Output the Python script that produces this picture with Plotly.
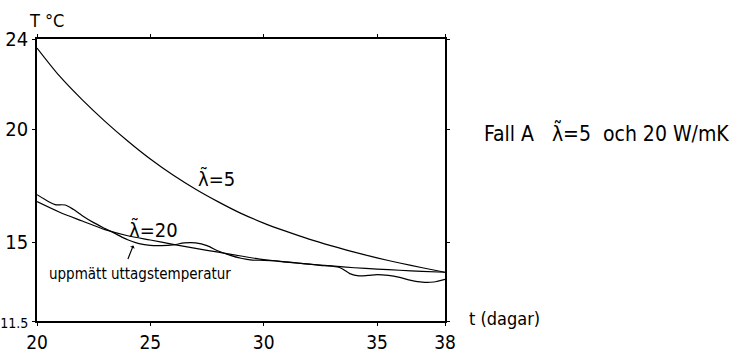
import plotly.graph_objects as go

# λ̃ = 5 computed curve
t_l5 = [20, 21, 22, 23, 24, 25, 26, 27, 28, 29, 30, 31, 32, 33, 34, 35, 36, 37, 38]
T_l5 = [23.6, 22.35, 21.3, 20.35, 19.48, 18.68, 17.97, 17.34, 16.78, 16.27, 15.84,
        15.47, 15.13, 14.83, 14.55, 14.3, 14.07, 13.86, 13.66]

# λ̃ = 20 computed curve
t_l20 = [20, 21, 22, 23, 24, 25, 26, 27, 28, 29, 30, 31, 32, 33, 34, 35, 36, 37, 38]
T_l20 = [16.79, 16.32, 15.93, 15.55, 15.28, 15.09, 14.9, 14.72, 14.55, 14.38, 14.22,
         14.11, 14.02, 13.94, 13.86, 13.8, 13.75, 13.7, 13.66]

# measured outlet temperature (uppmätt uttagstemperatur)
t_meas = [20, 20.5, 20.8, 21.25, 21.6, 22.0, 22.5, 23.0, 23.5, 24.0, 24.5, 25.0, 25.5,
          26.0, 26.5, 27.0, 27.5, 28.0, 28.5, 29.0, 29.5, 30.0, 30.5, 31.0, 31.5,
          32.0, 32.5, 33.0, 33.4, 33.8, 34.2, 34.6, 35.0, 35.5, 36.0, 36.5, 37.0,
          37.5, 38.0]
T_meas = [17.1, 16.8, 16.66, 16.64, 16.45, 16.17, 15.86, 15.6, 15.35, 15.1, 14.93,
          14.85, 14.84, 14.87, 14.96, 14.96, 14.84, 14.6, 14.42, 14.28, 14.2, 14.19,
          14.17, 14.12, 14.07, 14.02, 13.97, 13.93, 13.85, 13.6, 13.5, 13.52, 13.56,
          13.52, 13.43, 13.3, 13.22, 13.23, 13.35]

x_ticks = [20, 25, 30, 35, 38]
y_ticks = [11.5, 15, 20, 24]
y_ticklabels = ["11.5", "15", "20", "24"]

FONT = "DejaVu Sans Condensed, DejaVu Sans, sans-serif"

fig = go.Figure()
for xs, ys in [(t_l5, T_l5), (t_l20, T_l20), (t_meas, T_meas)]:
    fig.add_trace(go.Scatter(x=xs, y=ys, mode="lines",
                             line=dict(color="black", width=1.2, shape="spline", smoothing=0.8),
                             showlegend=False, hoverinfo="skip"))

y_text = [f'<span style="font-size:14px">{s}</span>' if "." in s else s for s in y_ticklabels]

fig.update_layout(
    width=735, height=354,
    margin=dict(l=37, r=290, t=39, b=33),
    paper_bgcolor="white", plot_bgcolor="white",
    font=dict(family=FONT, color="black", size=20),
    xaxis=dict(range=[20, 38], tickvals=x_ticks, ticks="outside", ticklen=3,
               tickwidth=1.2, tickcolor="black", showgrid=False, zeroline=False,
               showline=True, linecolor="black", linewidth=1.5, mirror="ticks",
               ticklabelstandoff=0, tickfont=dict(size=19), automargin=False),
    yaxis=dict(range=[11.5, 24], tickvals=y_ticks, ticktext=y_text,
               ticks="outside", ticklen=3, tickwidth=1.2, tickcolor="black",
               showgrid=False, zeroline=False, showline=True, linecolor="black",
               linewidth=1.5, mirror="ticks", ticklabelstandoff=0,
               tickfont=dict(size=20), automargin=False),
)

NB = "\u00a0"
ann = [
    dict(text="T °C", xref="paper", yref="paper", x=0.0245, y=1.064,
         xanchor="center", yanchor="middle", showarrow=False, font=dict(size=18)),
    dict(text="t (dagar)", xref="paper", yref="paper", x=1.054, y=0.01,
         xanchor="left", yanchor="middle", showarrow=False, font=dict(size=18)),
    dict(text=f"Fall A{NB*3}λ\u0303=5{NB*2}och 20 W/mK", xref="paper", yref="paper",
         x=1.0907, y=0.67, xanchor="left", yanchor="middle", showarrow=False,
         font=dict(size=21)),
    dict(text="λ\u0303=5", x=27.9, y=17.8, xanchor="center", yanchor="middle",
         showarrow=False, font=dict(size=20)),
    dict(text="λ\u0303=20", x=25.12, y=15.55, xanchor="center", yanchor="middle",
         showarrow=False, font=dict(size=20)),
    dict(text="uppmätt uttagstemperatur", x=24.54, y=13.58, xanchor="center",
         yanchor="middle", showarrow=False, font=dict(size=15)),
    dict(text="", x=24.25, y=14.85, showarrow=True, ax=-6, ay=15,
         arrowhead=1, arrowsize=0.7, arrowwidth=1.2, arrowcolor="black"),
]
fig.update_layout(annotations=ann)

fig.write_html("out.html", config={"displayModeBar": False},
               post_script="document.body.style.margin='0';")
